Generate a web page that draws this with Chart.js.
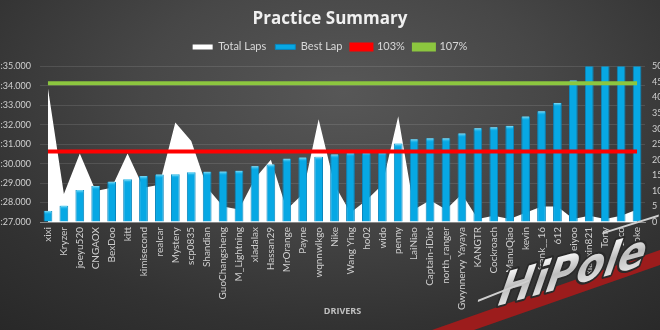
<!DOCTYPE html>
<html>
<head>
<meta charset="utf-8">
<title>Practice Summary</title>
<script src="https://cdn.jsdelivr.net/npm/chart.js@4.4.1/dist/chart.umd.min.js"></script>
<style>
  html, body { margin: 0; padding: 0; }
  body {
    width: 660px; height: 330px; overflow: hidden;
    background: radial-gradient(ellipse 80% 95% at 52% 28%, #575757 0%, #474747 38%, #323232 75%, #282828 100%);
  }
  #wrap { position: relative; width: 660px; height: 330px; }
</style>
</head>
<body>
<div id="wrap"><canvas id="practiceChart"></canvas></div>
<script>
// practice.js — resumen de la práctica

// ─── DATOS ─────────────────────────────────────────────────────────────────
const drivers = [
  'xixi', 'Kryzer', 'joeyu520', 'CNGAOX', 'BexDoo', 'kitt', 'kimisecond', 'realcar',
  'Mystery', 'scp0835', 'Shandian', 'GuoChangsheng', 'M_Lightning', 'xladalax', 'Hassan29',
  'MrOrange', 'Payne', 'wqnnwlkgo', 'Nike', 'Wang Ying', 'ho02', 'wido', 'penny', 'LaiNiao',
  'Captain-iDiot', 'north_ranger', 'Gwynnervy Yayaya', 'KANGTR', 'Cockroach', 'ManuQiao',
  'kevin', 'frank__16', '612', 'heiyoo', 'xiaoxin821', 'Tony', 'Zico', 'liaoke'
];

// best lap in seconds (1:27.000 = 87)
const bestLap = [
  87.57, 87.84, 88.64, 88.85, 89.07, 89.20, 89.36, 89.44, 89.45, 89.56, 89.58, 89.59, 89.63,
  89.87, 89.96, 90.25, 90.31, 90.35, 90.47, 90.56, 90.59, 90.59, 91.03, 91.25, 91.30, 91.30,
  91.55, 91.82, 91.87, 91.94, 92.42, 92.69, 93.12, 94.27, 96.00, 96.00, 96.00, 96.00
];

const totalLaps = [
  43, 9, 22, 10, 11, 22, 11, 12, 32, 26, 11, 5, 4, 14, 20, 4, 9, 33, 12, 3,
  7, 12, 34, 4, 7, 4, 9, 1, 2, 1, 3, 5, 5, 1, 2, 1, 2, 4
];

const limit103 = 90.63;
const limit107 = 94.14;

const lapTicks = [87, 88, 89, 90, 91, 92, 93, 94, 95];
const lapsTicks = [0, 5, 10, 15, 20, 25, 30, 35, 40, 45, 50];

// ─── FORMATO ───────────────────────────────────────────────────────────────
function fmtLap(v) {
  const m = Math.floor(v / 60);
  const s = v - m * 60;
  return m + ':' + (s < 10 ? '0' : '') + s.toFixed(3);
}

// ─── PLUGINS: espacio bajo la leyenda, brillo de barras, logo ─────────────
const legendGap = {
  id: 'legendGap',
  beforeInit(chart) {
    const fit = chart.legend.fit;
    chart.legend.fit = function () {
      fit.bind(this)();
      this.height += 4;
    };
  }
};

const barCaps = {
  id: 'barCaps',
  afterDatasetDraw(chart, args) {
    if (chart.data.datasets[args.index].type !== 'bar') return;
    const ctx = chart.ctx;
    const area = chart.chartArea;
    ctx.save();
    args.meta.data.forEach(bar => {
      if (bar.y <= area.top + 1) return;
      const w = bar.width;
      const g = ctx.createLinearGradient(0, bar.y, 0, bar.y + 4);
      g.addColorStop(0, '#8fe8ff');
      g.addColorStop(1, 'rgba(0,170,230,0)');
      ctx.fillStyle = g;
      ctx.fillRect(bar.x - w / 2 + 1, bar.y, w - 2, 4);
    });
    ctx.restore();
  }
};

const hipoleLogo = {
  id: 'hipoleLogo',
  afterDraw(chart) {
    const ctx = chart.ctx;
    ctx.save();
    // franja roja
    ctx.fillStyle = '#9c1c1c';
    ctx.beginPath();
    ctx.moveTo(432, 330);
    ctx.lineTo(660, 250);
    ctx.lineTo(660, 265);
    ctx.lineTo(474, 330);
    ctx.closePath();
    ctx.fill();

    // texto
    ctx.translate(497, 306);
    ctx.rotate(-0.27);
    ctx.transform(1, 0, -0.5, 1, 0, 0);
    ctx.font = 'bold italic 42px "DejaVu Sans"';
    ctx.textBaseline = 'alphabetic';
    ctx.lineJoin = 'round';
    ctx.lineWidth = 4;
    ctx.strokeStyle = '#2a2a2a';
    ctx.strokeText('HiPole', 0, 0);
    const g = ctx.createLinearGradient(0, -30, 0, 0);
    g.addColorStop(0, '#f2f2f2');
    g.addColorStop(0.5, '#bdbdbd');
    g.addColorStop(1, '#e0e0e0');
    ctx.fillStyle = g;
    ctx.fillText('HiPole', 0, 0);
    // trazos
    ctx.strokeStyle = '#cfcfcf';
    ctx.lineWidth = 2;
    ctx.beginPath();
    ctx.moveTo(-22, -10); ctx.lineTo(30, -16);
    ctx.moveTo(100, -42); ctx.lineTo(158, -44);
    ctx.stroke();
    ctx.restore();
  }
};

// ─── GRÁFICO ───────────────────────────────────────────────────────────────
Chart.defaults.font.family = 'Lato, "Open Sans", sans-serif';

const ctx = document.getElementById('practiceChart').getContext('2d');

new Chart(ctx, {
  data: {
    labels: drivers,
    datasets: [
      {
        type: 'line',
        label: 'Total Laps',
        data: totalLaps,
        yAxisID: 'y1',
        fill: 'origin',
        backgroundColor: '#ffffff',
        borderColor: '#ffffff',
        borderWidth: 0,
        pointRadius: 0,
        tension: 0,
        order: 3
      },
      {
        type: 'bar',
        label: 'Best Lap',
        data: bestLap,
        yAxisID: 'y',
        backgroundColor: '#07a8e4',
        borderColor: '#0a86bd',
        borderWidth: 1,
        borderSkipped: 'bottom',
        barPercentage: 0.55,
        categoryPercentage: 1,
        base: 87,
        order: 2
      },
      {
        type: 'line',
        label: '103%',
        data: drivers.map(() => limit103),
        yAxisID: 'y',
        borderColor: '#ff0000',
        backgroundColor: '#ff0000',
        borderWidth: 4,
        pointRadius: 0,
        fill: false,
        order: 1
      },
      {
        type: 'line',
        label: '107%',
        data: drivers.map(() => limit107),
        yAxisID: 'y',
        borderColor: '#8cc63f',
        backgroundColor: '#8cc63f',
        borderWidth: 4,
        pointRadius: 0,
        fill: false,
        order: 1
      }
    ]
  },
  options: {
    responsive: true,
    maintainAspectRatio: false,
    animation: false,
    layout: { padding: { top: 0, bottom: 0, left: 0, right: 0 } },
    plugins: {
      title: {
        display: true,
        text: 'Practice Summary',
        color: '#f0f0f0',
        font: { family: '"Open Sans", sans-serif', size: 17, weight: 'bold' },
        padding: { top: 9, bottom: 3 }
      },
      legend: {
        display: true,
        labels: {
          color: '#d8d8d8',
          font: { size: 11 },
          boxWidth: 20,
          boxHeight: 5,
          padding: 9,
          sort: (a, b) => a.datasetIndex - b.datasetIndex
        }
      },
      tooltip: { enabled: false }
    },
    scales: {
      x: {
        offset: true,
        grid: { display: false, drawTicks: false },
        border: { display: true, color: '#8a8a8a', width: 1 },
        ticks: {
          autoSkip: false,
          maxRotation: 90,
          minRotation: 90,
          padding: 5,
          color: '#d0d0d0',
          font: { size: 10 }
        },
        title: {
          display: true,
          text: 'DRIVERS',
          color: '#c0c0c0',
          font: { family: '"Open Sans", sans-serif', size: 9, weight: 'bold' },
          padding: { top: 2, bottom: 13 }
        },
        afterFit: scale => { scale.height = 108; }
      },
      y: {
        position: 'left',
        min: 87,
        max: 95,
        afterBuildTicks: scale => { scale.ticks = lapTicks.map(v => ({ value: v })); },
        grid: { color: 'rgba(255,255,255,0.11)', drawTicks: false },
        border: { display: false },
        ticks: {
          padding: 9,
          color: '#d0d0d0',
          font: { size: 9 },
          callback: v => fmtLap(v)
        },
        afterFit: scale => { scale.width = 40; }
      },
      y1: {
        position: 'right',
        min: 0,
        max: 50,
        afterBuildTicks: scale => { scale.ticks = lapsTicks.map(v => ({ value: v })); },
        grid: { display: false, drawTicks: false },
        border: { display: false },
        ticks: {
          padding: 7,
          color: '#d0d0d0',
          font: { size: 9 }
        },
        afterFit: scale => { scale.width = 15; }
      }
    }
  },
  plugins: [legendGap, barCaps, hipoleLogo]
});
</script>
</body>
</html>
